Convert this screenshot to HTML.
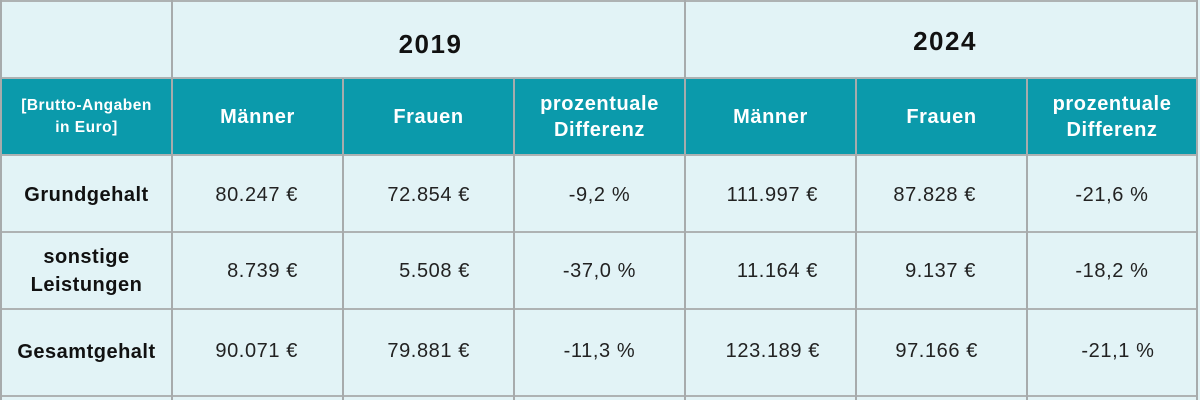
<!DOCTYPE html>
<html><head><meta charset="utf-8">
<style>
html,body{margin:0;padding:0;}
body{width:1200px;height:400px;position:relative;overflow:hidden;background:#e2f3f6;font-family:"Liberation Sans",sans-serif;}
.teal{position:absolute;left:0;top:78px;width:1198px;height:77px;background:#0b9aab;}
.v{position:absolute;width:2px;background:#a7abac;}
.h{position:absolute;height:2px;background:#aeb2b3;left:0;width:1198px;}
.t{position:absolute;display:flex;align-items:center;justify-content:center;text-align:center;white-space:nowrap;}
.yr{font-weight:bold;font-size:26px;letter-spacing:1.5px;color:#111;}
.hd{font-weight:bold;font-size:20px;letter-spacing:0.6px;color:#fff;line-height:26px;}
.sm{font-weight:bold;font-size:15.5px;letter-spacing:0.5px;color:#fff;line-height:22px;}
.lb{font-weight:bold;font-size:20px;letter-spacing:0.5px;color:#111;line-height:28px;}
.val{font-size:20px;letter-spacing:0.6px;color:#222;}
.r{position:absolute;white-space:nowrap;font-size:20px;letter-spacing:0.6px;color:#222;text-align:right;line-height:24px;}
</style></head><body>
<div class="teal"></div>

<div class="h" style="top:0px"></div>
<div class="h" style="top:77px"></div>
<div class="h" style="top:154px"></div>
<div class="h" style="top:231px"></div>
<div class="h" style="top:308px"></div>
<div class="h" style="top:395px"></div>

<div class="v" style="left:0;top:0;height:400px"></div>
<div class="v" style="left:171px;top:0;height:400px"></div>
<div class="v" style="left:342px;top:78px;height:322px"></div>
<div class="v" style="left:513px;top:78px;height:322px"></div>
<div class="v" style="left:684px;top:0;height:400px"></div>
<div class="v" style="left:855px;top:78px;height:322px"></div>
<div class="v" style="left:1026px;top:78px;height:322px"></div>
<div class="v" style="left:1196px;top:0;height:400px"></div>

<div class="t yr" style="left:173px;width:511px;top:30px;height:28px;padding-left:2px;">2019</div>
<div class="t yr" style="left:686px;width:510px;top:27px;height:28px;padding-left:4px;">2024</div>

<div class="t sm" style="left:2px;width:169px;top:79px;height:75px;">[Brutto-Angaben<br>in Euro]</div>
<div class="t hd" style="left:173px;width:169px;top:79px;height:75px;">Männer</div>
<div class="t hd" style="left:344px;width:169px;top:79px;height:75px;">Frauen</div>
<div class="t hd" style="left:515px;width:169px;top:79px;height:75px;">prozentuale<br>Differenz</div>
<div class="t hd" style="left:686px;width:169px;top:79px;height:75px;">Männer</div>
<div class="t hd" style="left:857px;width:169px;top:79px;height:75px;">Frauen</div>
<div class="t hd" style="left:1028px;width:168px;top:79px;height:75px;">prozentuale<br>Differenz</div>

<div class="t lb" style="left:2px;width:169px;top:156px;height:78px;">Grundgehalt</div>
<div class="t lb" style="left:2px;width:169px;top:233px;height:76px;">sonstige<br>Leistungen</div>
<div class="t lb" style="left:2px;width:169px;top:310px;height:84px;">Gesamtgehalt</div>

<div class="r" style="right:902px;top:183px;">80.247 €</div>
<div class="r" style="right:730px;top:183px;">72.854 €</div>
<div class="t val" style="left:515px;width:169px;top:183px;height:24px;">-9,2 %</div>
<div class="r" style="right:382px;top:183px;">111.997 €</div>
<div class="r" style="right:224px;top:183px;">87.828 €</div>
<div class="t val" style="left:1028px;width:168px;top:183px;height:24px;">-21,6 %</div>

<div class="r" style="right:902px;top:259px;">8.739 €</div>
<div class="r" style="right:730px;top:259px;">5.508 €</div>
<div class="t val" style="left:515px;width:169px;top:259px;height:24px;">-37,0 %</div>
<div class="r" style="right:382px;top:259px;">11.164 €</div>
<div class="r" style="right:224px;top:259px;">9.137 €</div>
<div class="t val" style="left:1028px;width:168px;top:259px;height:24px;">-18,2 %</div>

<div class="r" style="right:902px;top:339px;">90.071 €</div>
<div class="r" style="right:730px;top:339px;">79.881 €</div>
<div class="t val" style="left:515px;width:169px;top:339px;height:24px;">-11,3 %</div>
<div class="r" style="right:380px;top:339px;">123.189 €</div>
<div class="r" style="right:222px;top:339px;">97.166 €</div>
<div class="t val" style="left:1034px;width:168px;top:339px;height:24px;">-21,1 %</div>
</body></html>
